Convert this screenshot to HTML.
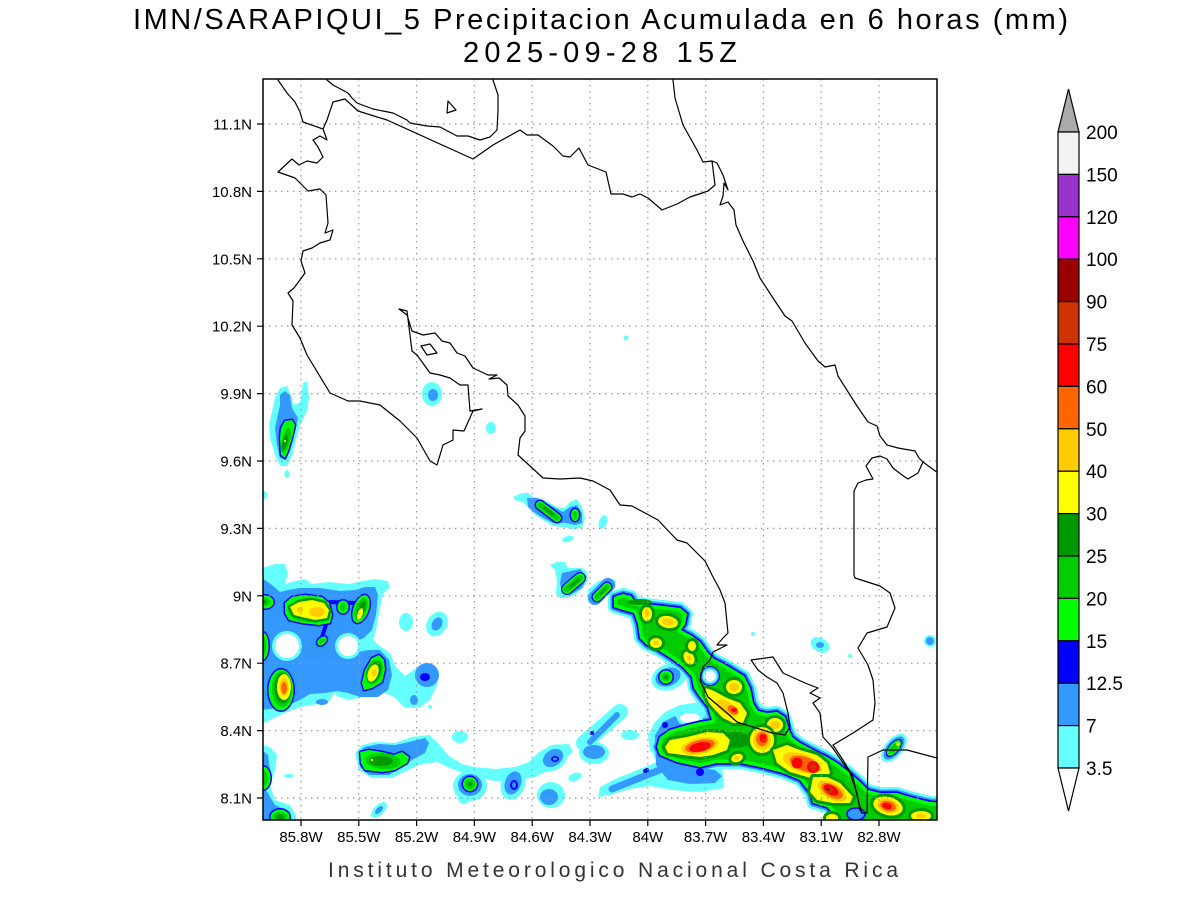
<!DOCTYPE html>
<html><head><meta charset="utf-8"><style>
html,body{margin:0;padding:0;background:#fff;}
svg{display:block;}
text{font-family:"Liberation Sans",sans-serif;}
</style></head><body>
<svg width="1200" height="900" viewBox="0 0 1200 900" xmlns="http://www.w3.org/2000/svg">
<defs>
<clipPath id="m"><rect x="263" y="79" width="674" height="741"/></clipPath>
<path id="G" d="M614,597 L623,594 L631,596 L635,602 L645,604 L663,606 L680,608 L687,614 L685,624 L681,630 L692,636 L700,642 L707,652 L714,659 L724,664 L734,670 L744,676 L750,688 L753,703 L758,711 L767,713 L777,712 L785,717 L788,727 L792,737 L800,743 L813,750 L827,757 L837,763 L850,773 L860,782 L868,790 L880,793 L897,793 L910,797 L930,802 L945,803 L945,830 L840,830 L833,813 L827,807 L813,803 L810,793 L800,780 L783,773 L760,767 L740,763 L717,763 L700,767 L677,762 L660,755 L657,747 L660,737 L670,730 L687,725 L700,722 L712,720 L708,707 L700,697 L694,688 L692,677 L683,667 L672,659 L658,650 L647,645 L640,638 L638,624 L634,613 L623,610 L614,607 Z"/>
<clipPath id="cG"><path d="M614,597 L623,594 L631,596 L635,602 L645,604 L663,606 L680,608 L687,614 L685,624 L681,630 L692,636 L700,642 L707,652 L714,659 L724,664 L734,670 L744,676 L750,688 L753,703 L758,711 L767,713 L777,712 L785,717 L788,727 L792,737 L800,743 L813,750 L827,757 L837,763 L850,773 L860,782 L868,790 L880,793 L897,793 L910,797 L930,802 L945,803 L945,830 L840,830 L833,813 L827,807 L813,803 L810,793 L800,780 L783,773 L760,767 L740,763 L717,763 L700,767 L677,762 L660,755 L657,747 L660,737 L670,730 L687,725 L700,722 L712,720 L708,707 L700,697 L694,688 L692,677 L683,667 L672,659 L658,650 L647,645 L640,638 L638,624 L634,613 L623,610 L614,607 Z"/></clipPath>
</defs>
<rect x="0" y="0" width="1200" height="900" fill="#fff"/>

<g clip-path="url(#m)" stroke-linejoin="round" stroke-linecap="round">
<!-- ===== CYAN ===== -->
<g fill="#66FFFF">
<use href="#G" stroke="#66FFFF" stroke-width="12"/>
<path d="M584,743 L620,712" stroke="#66FFFF" stroke-width="16"/>
<ellipse cx="594" cy="753" rx="15" ry="11"/>
<ellipse cx="630" cy="735" rx="9" ry="5"/>
<polygon points="598,797 600,787 615,779 635,771 652,764 662,760 672,765 722,766 724,788 700,792 672,790 650,786 630,789 610,795"/>
<polygon points="648,735 655,722 665,712 680,705 700,702 712,708 720,720 700,740 660,760 650,750"/>
<ellipse cx="669" cy="677" rx="18" ry="13" transform="rotate(-20 669 677)"/>
<ellipse cx="894" cy="748" rx="17" ry="9" transform="rotate(-50 894 748)"/>
<ellipse cx="820" cy="645" rx="10" ry="7" transform="rotate(30 820 645)"/>
<circle cx="930" cy="641" r="6"/>
<circle cx="850" cy="656" r="2"/>
<circle cx="753" cy="634" r="2"/>
<circle cx="626" cy="338" r="2.5"/>
<ellipse cx="603" cy="522" rx="4" ry="7" transform="rotate(20 603 522)"/>
<ellipse cx="568" cy="539" rx="6" ry="3" transform="rotate(-15 568 539)"/>
<ellipse cx="491" cy="428" rx="5" ry="6"/>
<ellipse cx="432" cy="394" rx="10" ry="12"/>
<polygon points="513,497 522,493 528,493 533,497 543,499 557,507 565,508 570,502 577,499 582,507 585,518 582,528 573,529 563,527 553,526 543,520 535,515 528,507 522,502 515,500"/>
<polygon points="550,565 557,562 565,562 568,568 582,568 587,572 588,580 583,588 575,595 567,598 560,598 556,593 557,580 555,570"/>
<polygon points="588,590 597,582 607,578 615,580 616,587 608,593 602,600 593,605 588,602"/>
<polygon points="269,425 275,398 280,388 287,386 292,398 293,405 300,403 303,383 307,381 309,398 307,411 300,425 292,455 287,466 280,466 275,455 270,438"/>
<ellipse cx="287" cy="474" rx="2.5" ry="4"/>
<ellipse cx="264" cy="495" rx="3" ry="4"/>
<polygon points="262,568 275,564 285,564 288,573 285,584 295,581 305,579 312,584 329,582 349,584 362,581 375,579 388,581 390,587 383,594 380,607 376,630 373,640 381,647 390,653 396,667 405,676 415,669 425,666 435,669 438,683 430,700 420,707 405,708 394,697 385,693 372,695 359,698 349,700 339,697 334,693 329,702 312,705 300,707 282,714 262,724"/>
<ellipse cx="406" cy="622" rx="7" ry="9"/>
<ellipse cx="437" cy="624" rx="10" ry="13" transform="rotate(30 437 624)"/>
<circle cx="430" cy="707" r="2"/>
<ellipse cx="414" cy="700" rx="7" ry="8"/>
<polygon points="262,745 270,747 277,755 275,770 270,785 275,800 290,805 296,815 296,822 262,822"/>
<ellipse cx="289" cy="776" rx="5" ry="2"/>
<polygon points="355,753 362,745 375,742 395,743 412,737 429,735 437,742 449,756 462,764 475,767 495,769 515,767 529,762 539,752 552,745 569,744 573,752 562,761 549,770 535,777 515,781 495,781 480,778 465,774 450,768 437,762 422,764 412,768 402,773 392,778 372,778 359,770"/>
<ellipse cx="460" cy="737" rx="8" ry="6"/>
<ellipse cx="470" cy="786" rx="17" ry="15"/>
<ellipse cx="464" cy="798" rx="6" ry="6"/>
<ellipse cx="513" cy="784" rx="12" ry="16" transform="rotate(20 513 784)"/>
<ellipse cx="553" cy="758" rx="16" ry="12" transform="rotate(-35 553 758)"/>
<ellipse cx="551" cy="795" rx="14" ry="13"/>
<ellipse cx="575" cy="777" rx="7" ry="4" transform="rotate(-20 575 777)"/>
<ellipse cx="379" cy="810" rx="10" ry="5" transform="rotate(-45 379 810)"/>
</g>

<!-- ===== LIGHT BLUE ===== -->
<g fill="#3399FF">
<use href="#G" stroke="#3399FF" stroke-width="7"/>
<path d="M590,742 L617,715" stroke="#3399FF" stroke-width="6"/>
<ellipse cx="594" cy="752" rx="11" ry="7"/>
<path d="M612,789 L662,769" stroke="#3399FF" stroke-width="7"/>
<polygon points="655,735 663,722 675,716 680,722 668,735 668,755 690,766 715,770 722,776 715,783 690,784 668,780 656,765"/>
<ellipse cx="668" cy="677" rx="13" ry="9" transform="rotate(-20 668 677)"/>
<ellipse cx="894" cy="748" rx="14" ry="7" transform="rotate(-50 894 748)"/>
<ellipse cx="820" cy="645" rx="4" ry="3"/>
<circle cx="930" cy="641" r="4"/>
<ellipse cx="433" cy="395" rx="5" ry="6"/>
<polygon points="527,498 537,498 550,505 563,512 570,507 577,505 582,513 582,523 575,525 565,523 553,523 543,518 535,513 528,507"/>
<polygon points="562,573 580,569 587,577 582,588 570,595 562,593 560,583"/>
<path d="M595,598 L608,585" stroke="#3399FF" stroke-width="14"/>
<polygon points="275,428 280,405 280,395 285,391 290,395 292,408 298,418 295,431 290,451 285,460 280,458 277,445"/>
<polygon points="262,578 272,585 280,592 288,590 300,588 320,588 340,591 355,590 365,587 375,587 378,595 376,615 372,630 364,638 354,642 358,652 368,650 380,650 389,660 392,675 388,690 378,697 360,697 348,693 337,691 325,693 310,694 300,700 285,707 262,710"/>
<ellipse cx="322" cy="702" rx="6" ry="3"/>
<ellipse cx="427" cy="675" rx="12" ry="12"/>
<ellipse cx="414" cy="700" rx="4" ry="5"/>
<ellipse cx="437" cy="624" rx="5" ry="7" transform="rotate(30 437 624)"/>
<polygon points="262,750 268,755 270,770 266,790 275,805 290,812 292,822 262,822"/>
<polygon points="359,753 364,747 379,744 395,745 409,742 425,738 429,743 425,753 412,760 402,767 389,775 369,775 360,767"/>
<ellipse cx="470" cy="785" rx="12" ry="11"/>
<ellipse cx="513" cy="783" rx="8" ry="12" transform="rotate(20 513 783)"/>
<ellipse cx="553" cy="758" rx="11" ry="8" transform="rotate(-35 553 758)"/>
<ellipse cx="549" cy="797" rx="9" ry="8"/>
<ellipse cx="379" cy="810" rx="5" ry="2.5" transform="rotate(-45 379 810)"/>
</g>

<!-- ===== HOLES ===== -->
<ellipse cx="287" cy="646" rx="15" ry="15" fill="#66FFFF"/>
<ellipse cx="287" cy="646" rx="12" ry="12" fill="#fff"/>
<ellipse cx="348" cy="646" rx="13" ry="13" fill="#66FFFF"/>
<ellipse cx="348" cy="646" rx="10" ry="10" fill="#fff"/>
<ellipse cx="690" cy="718" rx="13" ry="8" fill="#66FFFF"/>
<ellipse cx="690" cy="718" rx="10" ry="5" fill="#fff"/>

<!-- ===== BLUE ===== -->
<g fill="#0000FF">
<use href="#G" stroke="#0000FF" stroke-width="3.5"/>
<circle cx="665" cy="725" r="3"/>
<circle cx="700" cy="772" r="4"/>
<circle cx="645" cy="771" r="2"/>
<circle cx="592" cy="733" r="2"/>
<circle cx="647" cy="770" r="2"/>
<ellipse cx="666" cy="677" rx="8" ry="8"/>
<ellipse cx="894" cy="748" rx="11" ry="5.5" transform="rotate(-50 894 748)"/>
<path d="M540,505 L557,518" stroke="#0000FF" stroke-width="11"/>
<ellipse cx="575" cy="515" rx="5.5" ry="7.5"/>
<path d="M567,589 L580,578" stroke="#0000FF" stroke-width="12"/>
<path d="M597,597 L607,587" stroke="#0000FF" stroke-width="11"/>
<polygon points="281,428 285,421 292,420 295,425 292,438 288,451 285,458 281,455 280,438" stroke="#0000FF" stroke-width="3"/>
<polygon points="285,603 292,597 305,595 322,597 329,603 332,615 330,623 319,625 302,623 289,620 285,613" stroke="#0000FF" stroke-width="3"/>
<ellipse cx="322" cy="641" rx="7" ry="5" transform="rotate(-40 322 641)"/>
<path d="M327,622 L322,637" stroke="#0000FF" stroke-width="4"/>
<path d="M330,602 L355,603" stroke="#0000FF" stroke-width="4"/>
<ellipse cx="265" cy="602" rx="10" ry="8"/>
<ellipse cx="343" cy="607" rx="7" ry="8"/>
<ellipse cx="361" cy="609" rx="9" ry="16" transform="rotate(20 361 609)"/>
<ellipse cx="263" cy="646" rx="7" ry="15"/>
<ellipse cx="281" cy="690" rx="14" ry="22"/>
<polygon points="362,683 365,670 372,658 379,655 384,660 385,670 382,682 372,688 364,690" stroke="#0000FF" stroke-width="3"/>
<ellipse cx="425" cy="677" rx="5" ry="4"/>
<ellipse cx="263" cy="778" rx="9" ry="13"/>
<ellipse cx="280" cy="817" rx="11" ry="9"/>
<polygon points="360,752 369,750 382,752 394,755 402,752 409,757 407,763 395,770 382,772 365,770 361,763" stroke="#0000FF" stroke-width="3"/>
<circle cx="470" cy="784" r="8.5"/>
<ellipse cx="514" cy="785" rx="4" ry="5"/>
<ellipse cx="555" cy="759" rx="4" ry="3"/>
</g>
<ellipse cx="514" cy="785" rx="2" ry="3" fill="#3399FF"/>
<ellipse cx="555" cy="759" rx="2" ry="1.5" fill="#3399FF"/>

<!-- ===== GREENS ===== -->
<use href="#G" fill="#00CC00"/>
<use href="#G" fill="none" stroke="#00FF00" stroke-width="7" clip-path="url(#cG)"/>
<ellipse cx="666" cy="677" rx="6.5" ry="6.5" fill="#00FF00"/>
<ellipse cx="666" cy="677" rx="4" ry="4" fill="#00CC00"/>
<circle cx="666" cy="677" r="2" fill="#009900"/>
<ellipse cx="894" cy="748" rx="9.5" ry="4.5" transform="rotate(-50 894 748)" fill="#00FF00"/>
<ellipse cx="894" cy="748" rx="6.5" ry="3" transform="rotate(-50 894 748)" fill="#00CC00"/>
<circle cx="898" cy="744" r="1.8" fill="#FFFF00"/>
<path d="M540,505 L557,518" stroke="#00FF00" stroke-width="8"/>
<path d="M540,505 L557,518" stroke="#00CC00" stroke-width="5"/>
<path d="M545,508 L553,514" stroke="#009900" stroke-width="3"/>
<ellipse cx="575" cy="515" rx="4" ry="6" fill="#00FF00"/>
<ellipse cx="575" cy="515" rx="2" ry="4" fill="#00CC00"/>
<path d="M567,589 L580,578" stroke="#00FF00" stroke-width="9.5"/>
<path d="M567,589 L580,578" stroke="#00CC00" stroke-width="6"/>
<path d="M571,586 L578,580" stroke="#009900" stroke-width="3"/>
<path d="M597,597 L607,587" stroke="#00FF00" stroke-width="8.5"/>
<path d="M597,597 L607,587" stroke="#00CC00" stroke-width="5"/>
<path d="M600,594 L605,589" stroke="#009900" stroke-width="2"/>
<polygon points="281,428 285,421 292,420 295,425 292,438 288,451 285,458 281,455 280,438" fill="#00FF00"/>
<ellipse cx="286" cy="440" rx="4" ry="13" transform="rotate(15 286 440)" fill="#00CC00"/>
<ellipse cx="285" cy="442" rx="2.5" ry="8" transform="rotate(15 285 442)" fill="#009900"/>
<circle cx="285" cy="441" r="1" fill="#FFFF00"/>
<polygon points="285,603 292,597 305,595 322,597 329,603 332,615 330,623 319,625 302,623 289,620 285,613" fill="#00FF00"/>
<ellipse cx="309" cy="610" rx="21" ry="12" fill="#00CC00"/>
<polygon points="290,607 299,602 312,600 324,603 329,610 327,618 315,620 302,617 294,615" fill="#FFFF00" stroke="#009900" stroke-width="5" paint-order="stroke"/>
<ellipse cx="317" cy="612" rx="8" ry="5" fill="#FFCC00"/>
<ellipse cx="300" cy="610" rx="3" ry="3" fill="#FFCC00"/>
<ellipse cx="322" cy="641" rx="5.5" ry="3.5" transform="rotate(-40 322 641)" fill="#00FF00"/>
<ellipse cx="322" cy="641" rx="3.5" ry="2" transform="rotate(-40 322 641)" fill="#00CC00"/>
<ellipse cx="265" cy="602" rx="8.5" ry="6.5" fill="#00FF00"/>
<ellipse cx="265" cy="602" rx="5" ry="4" fill="#00CC00"/>
<ellipse cx="264" cy="602" rx="2.5" ry="2" fill="#009900"/>
<ellipse cx="343" cy="607" rx="5.5" ry="6.5" fill="#00FF00"/>
<ellipse cx="343" cy="607" rx="3" ry="4" fill="#00CC00"/>
<ellipse cx="361" cy="609" rx="7.5" ry="14.5" transform="rotate(20 361 609)" fill="#00FF00"/>
<ellipse cx="361" cy="609" rx="5.5" ry="12" transform="rotate(20 361 609)" fill="#00CC00"/>
<ellipse cx="361" cy="610" rx="3.5" ry="9" transform="rotate(20 361 610)" fill="#009900"/>
<ellipse cx="360" cy="614" rx="2.5" ry="6" transform="rotate(20 360 614)" fill="#FFFF00"/>
<ellipse cx="263" cy="646" rx="5.5" ry="13.5" fill="#00FF00"/>
<ellipse cx="263" cy="646" rx="3" ry="10" fill="#00CC00"/>
<ellipse cx="281" cy="690" rx="12.5" ry="20.5" fill="#00FF00"/>
<ellipse cx="282" cy="689" rx="10" ry="18" fill="#00CC00"/>
<ellipse cx="283" cy="688" rx="8.5" ry="15" fill="#009900"/>
<ellipse cx="284" cy="687" rx="7" ry="13" fill="#FFFF00"/>
<ellipse cx="284" cy="687" rx="4.5" ry="9" fill="#FFCC00"/>
<ellipse cx="284" cy="688" rx="3" ry="6" fill="#FF6600"/>
<polygon points="362,683 365,670 372,658 379,655 384,660 385,670 382,682 372,688 364,690" fill="#00FF00"/>
<ellipse cx="374" cy="672" rx="8" ry="13" transform="rotate(20 374 672)" fill="#00CC00"/>
<ellipse cx="374" cy="672" rx="6.5" ry="11" transform="rotate(20 374 672)" fill="#009900"/>
<ellipse cx="373" cy="673" rx="5" ry="9" transform="rotate(20 373 673)" fill="#FFFF00"/>
<ellipse cx="374" cy="673" rx="2.5" ry="4" transform="rotate(20 374 673)" fill="#FFCC00"/>
<ellipse cx="263" cy="778" rx="7.5" ry="11.5" fill="#00FF00"/>
<ellipse cx="263" cy="778" rx="5" ry="8" fill="#00CC00"/>
<ellipse cx="280" cy="817" rx="9.5" ry="7.5" fill="#00FF00"/>
<ellipse cx="280" cy="817" rx="7" ry="5" fill="#00CC00"/>
<ellipse cx="280" cy="817" rx="4" ry="3" fill="#009900"/>
<polygon points="360,752 369,750 382,752 394,755 402,752 409,757 407,763 395,770 382,772 365,770 361,763" fill="#00FF00"/>
<ellipse cx="383" cy="761" rx="18" ry="8" transform="rotate(5 383 761)" fill="#00CC00"/>
<ellipse cx="381" cy="761" rx="12" ry="5" fill="#009900"/>
<circle cx="372" cy="760" r="1.2" fill="#FFFF00"/>
<circle cx="470" cy="784" r="7" fill="#00FF00"/>
<circle cx="470" cy="784" r="5" fill="#00CC00"/>
<circle cx="470" cy="784" r="2" fill="#009900"/>

<!-- ===== BAND INTERIOR ===== -->
<ellipse cx="735" cy="740" rx="16" ry="8" fill="#009900"/>
<ellipse cx="640" cy="602" rx="12" ry="3" fill="#009900"/>
<g fill="#FFFF00" stroke="#009900" stroke-width="6" paint-order="stroke">
<ellipse cx="647" cy="614" rx="5" ry="7"/>
<ellipse cx="668" cy="622" rx="10" ry="6" transform="rotate(10 668 622)"/>
<ellipse cx="656" cy="643" rx="6" ry="5"/>
<ellipse cx="689" cy="658" rx="5" ry="7" transform="rotate(-30 689 658)"/>
<ellipse cx="692" cy="646" rx="4" ry="5"/>
<polygon points="706,688 714,691 727,698 740,703 747,713 743,723 733,723 723,718 716,711 709,703 705,694"/>
<ellipse cx="734" cy="687" rx="8" ry="7"/>
<ellipse cx="775" cy="725" rx="8" ry="7"/>
<ellipse cx="762" cy="740" rx="12" ry="13"/>
<polygon points="665,747 670,740 687,737 707,732 723,733 730,740 727,750 713,755 700,757 683,755 668,753"/>
<ellipse cx="737" cy="758" rx="6" ry="4" transform="rotate(-20 737 758)"/>
<polygon points="773,750 787,745 800,750 817,755 827,763 830,773 820,780 807,777 790,772 777,763"/>
<polygon points="813,777 827,777 840,783 853,797 850,803 833,803 817,800 810,792"/>
<ellipse cx="888" cy="806" rx="15" ry="9" transform="rotate(15 888 806)"/>
<ellipse cx="921" cy="816" rx="10" ry="5"/>
<ellipse cx="832" cy="818" rx="6" ry="4"/>
</g>
<g fill="#FFCC00">
<ellipse cx="647" cy="613" rx="2.5" ry="4"/>
<ellipse cx="668" cy="622" rx="6" ry="3.5" transform="rotate(10 668 622)"/>
<ellipse cx="656" cy="643" rx="3" ry="2"/>
<ellipse cx="689" cy="658" rx="2" ry="3" transform="rotate(-30 689 658)"/>
<ellipse cx="727" cy="708" rx="12" ry="6" transform="rotate(35 727 708)"/>
<ellipse cx="734" cy="687" rx="5" ry="4"/>
<ellipse cx="775" cy="725" rx="5" ry="4"/>
<ellipse cx="762" cy="740" rx="9" ry="10"/>
<ellipse cx="700" cy="746" rx="19" ry="8" transform="rotate(-12 700 746)"/>
<ellipse cx="737" cy="758" rx="3" ry="2"/>
<ellipse cx="802" cy="763" rx="20" ry="9" transform="rotate(20 802 763)"/>
<ellipse cx="832" cy="791" rx="16" ry="8" transform="rotate(30 832 791)"/>
<ellipse cx="888" cy="806" rx="11" ry="7" transform="rotate(15 888 806)"/>
<ellipse cx="921" cy="816" rx="5" ry="2.5"/>
</g>
<g fill="#FF6600">
<ellipse cx="733" cy="710" rx="6" ry="4" transform="rotate(35 733 710)"/>
<ellipse cx="762" cy="739" rx="6" ry="7"/>
<ellipse cx="700" cy="746" rx="15" ry="6" transform="rotate(-12 700 746)"/>
<ellipse cx="805" cy="764" rx="16" ry="7" transform="rotate(20 805 764)"/>
<ellipse cx="832" cy="791" rx="12" ry="6" transform="rotate(30 832 791)"/>
<ellipse cx="888" cy="806" rx="8" ry="5" transform="rotate(15 888 806)"/>
</g>
<g fill="#FF0000">
<ellipse cx="734" cy="710" rx="3" ry="2"/>
<ellipse cx="763" cy="738" rx="3.5" ry="4.5"/>
<ellipse cx="700" cy="747" rx="11" ry="4.5" transform="rotate(-12 700 747)"/>
<circle cx="797" cy="763" r="5.5"/>
<circle cx="813" cy="767" r="6"/>
<ellipse cx="831" cy="790" rx="8" ry="4.5" transform="rotate(30 831 790)"/>
<ellipse cx="887" cy="806" rx="5" ry="3" transform="rotate(15 887 806)"/>
</g>
<circle cx="813" cy="767" r="3" fill="#CC3300"/>
<ellipse cx="829" cy="790" rx="4" ry="3" fill="#CC3300"/>
<ellipse cx="828" cy="789" rx="2" ry="1.5" fill="#990000"/>
<ellipse cx="856" cy="814" rx="9" ry="6" fill="#3399FF" stroke="#0000FF" stroke-width="1.5"/>
<!-- hole inside band -->
<circle cx="710" cy="676" r="10" fill="#0000FF"/>
<circle cx="710" cy="676" r="9" fill="#3399FF"/>
<circle cx="710" cy="676" r="7.5" fill="#66FFFF"/>
<circle cx="710" cy="676" r="5.5" fill="#fff"/>

<!-- ===== GRID ===== -->
<g stroke="#999" stroke-width="1.2" stroke-dasharray="1.5 4.5" stroke-linecap="butt" fill="none">
<path d="M301,79V820M358.8,79V820M416.6,79V820M474.4,79V820M532.2,79V820M590,79V820M647.8,79V820M705.6,79V820M763.4,79V820M821.2,79V820M879,79V820"/>
<path d="M263,124H937M263,191.4H937M263,258.8H937M263,326.2H937M263,393.6H937M263,461H937M263,528.4H937M263,595.8H937M263,663.2H937M263,730.6H937M263,798H937"/>
</g>

<!-- ===== COASTLINES ===== -->
<g fill="none" stroke="#000" stroke-width="1.2" stroke-linejoin="round">
<path d="M278,80 L287,93 L295,102 L300,112 L303,122 L323,129 L327,140 L320,136 L313,140 L318,147 L323,157 L317,163 L307,161 L299,165 L292,159 L278,172 L295,178 L308,191 L320,189 L326,195 L328,223 L325,233 L333,230 L330,240 L320,243 L312,248 L303,251 L301,261 L305,273 L294,288 L288,293 L293,301 L292,325 L300,338 L307,355 L330,393 L348,401 L360,401 L380,405 L400,421 L417,438 L430,461 L437,465 L443,445 L453,440 L453,430 L464,431 L473,411 L482,409 L470,411 L468,385 L460,385 L450,378 L440,375 L430,373 L417,355 L412,351 L407,311 L399,309 L407,315 L412,331 L423,335 L435,333 L442,341 L450,343 L457,353 L465,356 L473,368 L488,375 L497,375 L489,379 L499,378 L507,385 L508,396 L518,405 L525,416 L525,431 L520,438 L518,455 L530,466 L543,478 L560,479 L580,478 L593,481 L610,490 L620,505 L632,506 L658,520 L677,540 L687,543 L705,561 L712,575 L720,590 L725,603 L728,633 L723,638 L717,645 L727,645 L713,652 L710,660 L703,667 L700,680 L708,697 L727,713 L737,722 L772,733 L785,735 L790,727 L788,713 L783,693 L777,683 L767,677 L758,670 L751,660 L773,657 L783,673 L805,683 L818,688 L810,693 L820,698 L813,703 L820,713 L823,737 L832,747 L850,773 L857,793 L860,810 L862,813 L867,813 L868,757 L883,750 L907,750 L937,758"/>
<path d="M673,80 L675,98 L683,125 L697,150 L703,162 L712,161 L717,163 L723,175 L728,190 L724,183 L723,196 L720,205 L728,202 L734,210 L736,225 L743,241 L753,261 L760,278 L773,298 L785,316 L792,321 L805,343 L818,361 L825,367 L835,365 L838,376 L857,406 L868,422 L877,426 L880,436 L887,445 L898,448 L915,451 L919,458 L923,462 L938,473"/>
<path d="M923,462 L918,473 L908,479 L902,475 L893,468 L887,459 L880,456 L872,458 L866,466 L873,479 L866,480 L858,483 L854,491 L854,575 L855,578 L880,586 L890,593 L895,608 L887,627 L867,633 L858,648 L868,665 L873,680 L875,703 L873,720 L853,733 L833,745 L843,760 L853,777 L858,800 L862,813"/>
<path d="M712,161 L715,185 L708,191 L690,197 L677,204 L662,210 L648,198 L640,194 L632,197 L623,194 L611,194 L606,172 L588,165 L579,148 L570,157 L563,156 L553,146 L538,135 L527,135 L520,130 L493,145 L473,159 L387,120 L358,111 L345,99 L333,102 L327,120 L323,129"/>
<path d="M327,80 L333,85 L348,93 L352,98 L357,103 L373,109 L393,113 L407,120 L410,123 L427,126 L440,127 L457,136 L468,136 L480,140 L490,137 L497,130 L498,111 L498,95 L493,80"/>
<path d="M448,101 L456,110 L447,113 Z"/>
<path d="M421,346 L430,344 L437,353 L427,355 Z"/>
</g>
</g>

<!-- frame -->
<rect x="263" y="79" width="674" height="741" fill="none" stroke="#000" stroke-width="1.5"/>
<!-- ticks -->
<g stroke="#000" stroke-width="1.2">
<path d="M257,124H263M257,191.4H263M257,258.8H263M257,326.2H263M257,393.6H263M257,461H263M257,528.4H263M257,595.8H263M257,663.2H263M257,730.6H263M257,798H263"/>
<path d="M301,820V826M358.8,820V826M416.6,820V826M474.4,820V826M532.2,820V826M590,820V826M647.8,820V826M705.6,820V826M763.4,820V826M821.2,820V826M879,820V826"/>
</g>
<!-- y labels -->
<g font-size="15" fill="#000" text-anchor="end">
<text x="252" y="129.5">11.1N</text>
<text x="252" y="196.9">10.8N</text>
<text x="252" y="264.3">10.5N</text>
<text x="252" y="331.7">10.2N</text>
<text x="252" y="399.1">9.9N</text>
<text x="252" y="466.5">9.6N</text>
<text x="252" y="533.9">9.3N</text>
<text x="252" y="601.3">9N</text>
<text x="252" y="668.7">8.7N</text>
<text x="252" y="736.1">8.4N</text>
<text x="252" y="803.5">8.1N</text>
</g>
<!-- x labels -->
<g font-size="15" fill="#000" text-anchor="middle">
<text x="301" y="842">85.8W</text>
<text x="358.8" y="842">85.5W</text>
<text x="416.6" y="842">85.2W</text>
<text x="474.4" y="842">84.9W</text>
<text x="532.2" y="842">84.6W</text>
<text x="590" y="842">84.3W</text>
<text x="647.8" y="842">84W</text>
<text x="705.6" y="842">83.7W</text>
<text x="763.4" y="842">83.4W</text>
<text x="821.2" y="842">83.1W</text>
<text x="879" y="842">82.8W</text>
</g>

<!-- titles -->
<text x="133" y="29" font-size="29" fill="#000" textLength="935" lengthAdjust="spacing">IMN/SARAPIQUI_5 Precipitacion Acumulada en 6 horas (mm)</text>
<text x="463" y="62" font-size="29" fill="#000" textLength="274" lengthAdjust="spacing">2025-09-28 15Z</text>
<text x="328" y="877" font-size="21" fill="#333" textLength="570" lengthAdjust="spacing">Instituto Meteorologico Nacional Costa Rica</text>

<!-- colorbar -->
<g stroke="#000" stroke-width="1.2">
<polygon points="1058,132 1079,132 1068.5,89" fill="#AAAAAA"/>
<rect x="1058" y="132" width="21" height="42.4" fill="#F2F2F2"/>
<rect x="1058" y="174.4" width="21" height="42.4" fill="#9933CC"/>
<rect x="1058" y="216.8" width="21" height="42.4" fill="#FF00FF"/>
<rect x="1058" y="259.2" width="21" height="42.4" fill="#990000"/>
<rect x="1058" y="301.6" width="21" height="42.4" fill="#CC3300"/>
<rect x="1058" y="344" width="21" height="42.4" fill="#FF0000"/>
<rect x="1058" y="386.4" width="21" height="42.4" fill="#FF6600"/>
<rect x="1058" y="428.8" width="21" height="42.4" fill="#FFCC00"/>
<rect x="1058" y="471.2" width="21" height="42.4" fill="#FFFF00"/>
<rect x="1058" y="513.6" width="21" height="42.4" fill="#009900"/>
<rect x="1058" y="556" width="21" height="42.4" fill="#00CC00"/>
<rect x="1058" y="598.4" width="21" height="42.4" fill="#00FF00"/>
<rect x="1058" y="640.8" width="21" height="42.4" fill="#0000FF"/>
<rect x="1058" y="683.2" width="21" height="42.4" fill="#3399FF"/>
<rect x="1058" y="725.6" width="21" height="42.4" fill="#66FFFF"/>
<polygon points="1058,768 1079,768 1068.5,811" fill="#fff"/>
</g>
<g font-size="19" fill="#000">
<text x="1086" y="139">200</text>
<text x="1086" y="181.4">150</text>
<text x="1086" y="223.8">120</text>
<text x="1086" y="266.2">100</text>
<text x="1086" y="308.6">90</text>
<text x="1086" y="351">75</text>
<text x="1086" y="393.4">60</text>
<text x="1086" y="435.8">50</text>
<text x="1086" y="478.2">40</text>
<text x="1086" y="520.6">30</text>
<text x="1086" y="563">25</text>
<text x="1086" y="605.4">20</text>
<text x="1086" y="647.8">15</text>
<text x="1086" y="690.2">12.5</text>
<text x="1086" y="732.6">7</text>
<text x="1086" y="775">3.5</text>
</g>
</svg>
</body></html>
